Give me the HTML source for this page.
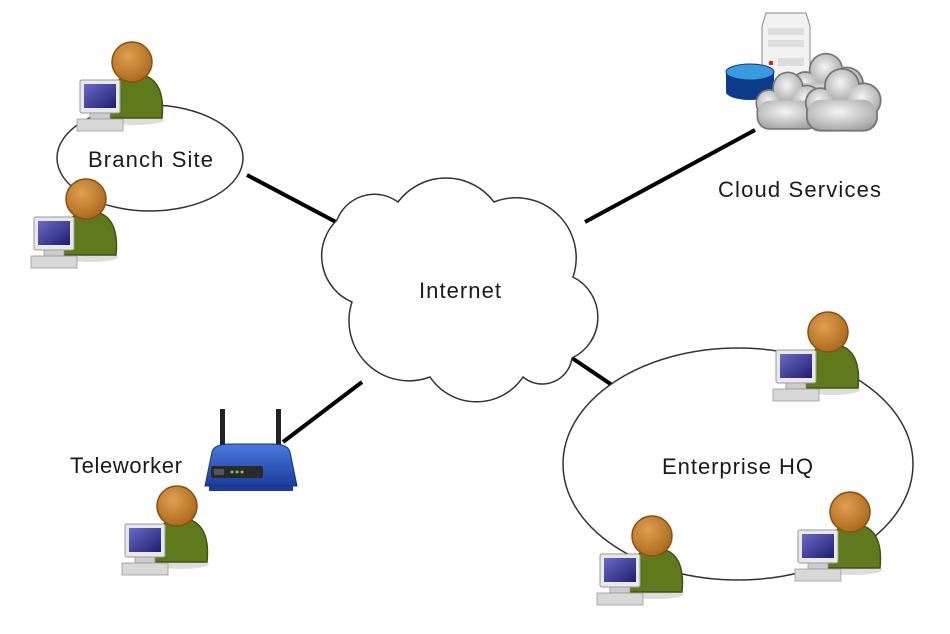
<!DOCTYPE html>
<html><head><meta charset="utf-8"><style>
html,body{margin:0;padding:0;background:#fff;}
svg{display:block;}
text{font-family:"Liberation Sans",sans-serif;fill:#1a1a1a;}
</style></head><body>
<svg width="950" height="634" viewBox="0 0 950 634" xmlns="http://www.w3.org/2000/svg">
<defs>
<radialGradient id="hd" cx="0.4" cy="0.35" r="0.7"><stop offset="0" stop-color="#e0a050"/><stop offset="1" stop-color="#a8661a"/></radialGradient>
<linearGradient id="sc" x1="0" y1="0" x2="1" y2="1"><stop offset="0" stop-color="#6a6ac8"/><stop offset="1" stop-color="#1e1e6e"/></linearGradient>
<radialGradient id="cg" cx="0.45" cy="0.4" r="0.7"><stop offset="0" stop-color="#f4f4f4"/><stop offset="1" stop-color="#a0a0a0"/></radialGradient>
<linearGradient id="rb" x1="0" y1="0" x2="0" y2="1"><stop offset="0" stop-color="#4a7ae0"/><stop offset="1" stop-color="#1a3c9a"/></linearGradient>
<g id="user">
  <ellipse cx="4" cy="58" rx="28" ry="5" fill="#ddd"/>
  <path d="M-22 56 Q-28 14 4 12 Q34 14 30 56 Z" fill="#5e7a1c" stroke="#3e5410" stroke-width="1.5"/>
  <circle cx="0" cy="0" r="20" fill="url(#hd)" stroke="#8a5010" stroke-width="1.5"/>
  <rect x="-52" y="18" width="40" height="33" rx="2" fill="#e8e8e8" stroke="#999"/>
  <rect x="-48" y="22" width="32" height="24" fill="url(#sc)"/>
  <rect x="-42" y="51" width="20" height="6" fill="#ccc" stroke="#999" stroke-width="0.8"/>
  <rect x="-55" y="57" width="46" height="12" fill="#d8d8d8" stroke="#999" stroke-width="0.8"/>
</g>
<g id="cl">
  <g fill="#777"><circle cx="0" cy="0" r="15"/><circle cx="-18" cy="14" r="13"/><circle cx="18" cy="12" r="15"/><rect x="-30" y="10" width="60" height="28" rx="12"/></g>
  <g fill="url(#cg)"><circle cx="0" cy="0" r="13.5"/><circle cx="-18" cy="14" r="11.5"/><circle cx="18" cy="12" r="13.5"/><rect x="-28.5" y="11.5" width="57" height="25" rx="11"/></g>
</g>
</defs>

<g stroke="#000" stroke-width="4">
<line x1="247" y1="175" x2="336" y2="222"/>
<line x1="585" y1="222" x2="755" y2="130"/>
<line x1="362" y1="382" x2="283" y2="442"/>
<line x1="572" y1="358" x2="612" y2="385"/>
</g>

<ellipse cx="150" cy="158" rx="93" ry="53" fill="#fff" stroke="#333" stroke-width="1.5"/>
<ellipse cx="738" cy="464" rx="175" ry="116" fill="#fff" stroke="#333" stroke-width="1.5"/>

<path d="M398 202 A60 60 0 0 1 494 202 A60 60 0 0 1 573 277 A45 45 0 0 1 572 358 A30 30 0 0 1 523 377 A56 56 0 0 1 430 377 A60 60 0 0 1 352 302 A50 50 0 0 1 337 220 A40 40 0 0 1 398 202 Z" fill="#fff" stroke="#333" stroke-width="1.5"/>

<path d="M762 26 L766 13 L806 13 L810 26 L810 100 L762 100 Z" fill="#f2f2f2" stroke="#888"/>
<rect x="768" y="28" width="36" height="7" fill="#ddd"/>
<rect x="768" y="40" width="36" height="7" fill="#ddd"/>
<rect x="769" y="61" width="4" height="4" fill="#d22"/>
<rect x="778" y="58" width="26" height="8" fill="#ddd"/>
<rect x="726" y="72" width="48" height="20" fill="#0d3c8a"/>
<ellipse cx="750" cy="92" rx="24" ry="8" fill="#0d3c8a"/>
<ellipse cx="750" cy="72" rx="24" ry="8" fill="#3a9ae0" stroke="#0d3c8a"/>
<use href="#cl" transform="translate(826,70) scale(1.15)"/>
<use href="#cl" transform="translate(788,88) scale(1.05,1.1)"/>
<use href="#cl" transform="translate(842,86) scale(1.2)"/>

<rect x="220" y="409" width="5" height="40" fill="#222"/>
<rect x="276" y="409" width="5" height="40" fill="#222"/>
<path d="M212 452 Q214 444 230 444 L272 444 Q288 444 290 452 L297 486 L205 486 Z" fill="url(#rb)" stroke="#13327a"/>
<rect x="211" y="466" width="52" height="12" rx="2" fill="#2a2a2a"/>
<rect x="214" y="469" width="10" height="6" fill="#555"/>
<g fill="#7c4"><circle cx="232" cy="472" r="1.5"/><circle cx="237" cy="472" r="1.5"/><circle cx="242" cy="472" r="1.5"/></g>
<rect x="209" y="486" width="84" height="5" fill="#1a3c9a"/>

<use href="#user" x="132" y="62"/>
<use href="#user" x="86" y="199"/>
<use href="#user" x="828" y="332"/>
<use href="#user" x="177" y="506"/>
<use href="#user" x="652" y="536"/>
<use href="#user" x="850" y="512"/>

<text x="88" y="167" font-size="22" textLength="125" lengthAdjust="spacing">Branch Site</text>
<text x="718" y="197" font-size="22" textLength="163" lengthAdjust="spacing">Cloud Services</text>
<text x="419" y="298" font-size="22" textLength="82" lengthAdjust="spacing">Internet</text>
<text x="70" y="473" font-size="22" textLength="112" lengthAdjust="spacing">Teleworker</text>
<text x="662" y="474" font-size="22" textLength="151" lengthAdjust="spacing">Enterprise HQ</text>
</svg>
</body></html>
